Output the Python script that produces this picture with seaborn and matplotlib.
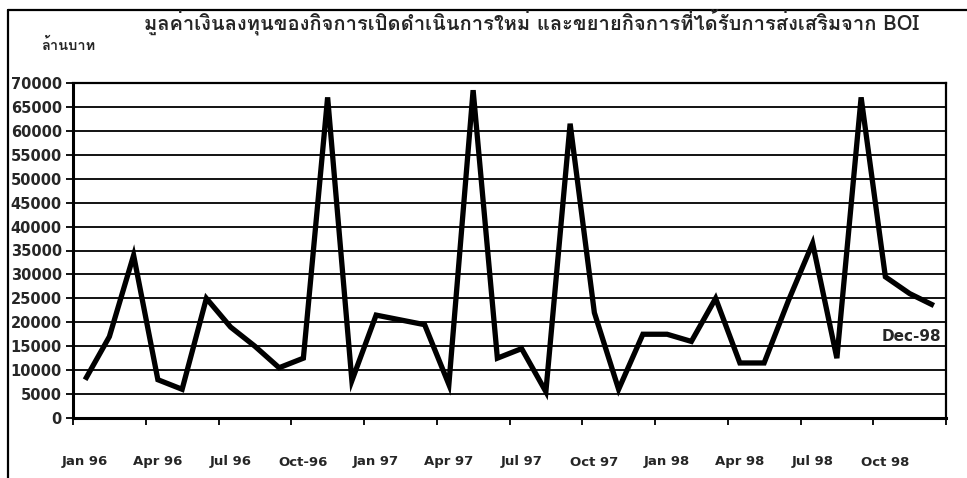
import numpy as np
import pandas as pd
import matplotlib
matplotlib.use("Agg")
import matplotlib.pyplot as plt
from matplotlib import font_manager
from matplotlib.ft2font import FT2Font
from matplotlib.lines import Line2D
import seaborn as sns

# ---------------- data ----------------
months = [f"{m} {y}" for y in (96, 97, 98) for m in
          ["Jan", "Feb", "Mar", "Apr", "May", "Jun",
           "Jul", "Aug", "Sep", "Oct", "Nov", "Dec"]]
values = [8000, 17000, 34000, 8000, 6000, 25000, 19000, 15000, 10500, 12500, 67000, 7800,
          21500, 20500, 19500, 7000, 68500, 12500, 14500, 5500, 61500, 22000, 6000, 17500,
          17500, 16000, 25000, 11500, 11500, 24500, 36500, 12500, 67000, 29500, 26000, 23500]
tick_labels = ["Jan 96", "Apr 96", "Jul 96", "Oct-96", "Jan 97", "Apr 97",
               "Jul 97", "Oct 97", "Jan 98", "Apr 98", "Jul 98", "Oct 98"]
y_ticks = list(range(0, 70001, 5000))
title = "มูลค่าเงินลงทุนของกิจการเปิดดำเนินการใหม่ และขยายกิจการที่ได้รับการส่งเสริมจาก BOI"
unit_label = "ล้านบาท"
end_label = "Dec-98"

# ---------------- fonts ----------------
def find_thai_font():
    seen = set()
    for f in font_manager.fontManager.ttflist:
        if f.name in seen:
            continue
        seen.add(f.name)
        try:
            cm = FT2Font(f.fname).get_charmap()
        except Exception:
            continue
        if 0x0E21 in cm and 0x0E48 in cm and 0x0E33 in cm:
            return f.name
    return None

sns.set_theme(style="white")
thai = find_thai_font()
fam = ([thai] if thai else []) + ["DejaVu Sans"]
plt.rcParams["font.family"] = ["DejaVu Sans"]

df = pd.DataFrame({"idx": np.arange(len(values)), "month": months, "value": values})

fig = plt.figure(figsize=(9.67, 4.78), dpi=100)
ax = fig.add_axes([73 / 967, 1 - 418 / 478, (946 - 73) / 967, (418 - 83) / 478])

sns.lineplot(data=df, x="idx", y="value", color="black", linewidth=3.8,
             ax=ax, solid_joinstyle="miter", solid_capstyle="butt")

ax.set_xlim(-0.5, len(values) - 0.5)
ax.set_ylim(0, 70000)
ax.set_yticks(y_ticks)
ax.set_yticklabels([str(v) for v in y_ticks], fontsize=10.5, fontweight="bold")
ax.yaxis.grid(True, color="black", linewidth=1.3)
ax.set_axisbelow(True)

ax.set_xticks(np.arange(-0.5, len(values), 3))
ax.set_xticklabels([])
ax.set_xticks(np.arange(0, len(values), 3), minor=True)
ax.set_xticklabels(tick_labels, minor=True, fontsize=9.5, fontweight="bold")
ax.tick_params(axis="x", which="major", direction="out", length=5, width=1.3, color="black", bottom=True)
ax.tick_params(axis="x", which="minor", length=0, pad=27, bottom=True)
ax.tick_params(axis="y", direction="out", length=5, width=1.3, color="black", left=True, pad=3)
ax.set_xlabel("")
ax.set_ylabel("")

for s in ["left", "bottom"]:
    ax.spines[s].set_visible(True)
    ax.spines[s].set_color("black")
    ax.spines[s].set_linewidth(2.2)
for s in ["top", "right"]:
    ax.spines[s].set_visible(True)
    ax.spines[s].set_color("black")
    ax.spines[s].set_linewidth(1.6)

ax.text(35.3, 17000, end_label, ha="right", va="center", fontsize=11, fontweight="bold")

fig.text(531 / 967, 1 - 22 / 478, title, ha="center", va="center",
         fontsize=14.5, fontweight="bold", family=fam)
fig.text(68 / 967, 1 - 45 / 478, unit_label, ha="center", va="center",
         fontsize=10.5, fontweight="bold", family=fam)

# outer frame (left and top edges)
fig.add_artist(Line2D([8 / 967, 8 / 967], [0, 1 - 10 / 478], transform=fig.transFigure,
                      color="black", linewidth=1.6))
fig.add_artist(Line2D([8 / 967, 1], [1 - 10 / 478, 1 - 10 / 478], transform=fig.transFigure,
                      color="black", linewidth=1.6))

fig.savefig("out.png", dpi=100, facecolor="white")
